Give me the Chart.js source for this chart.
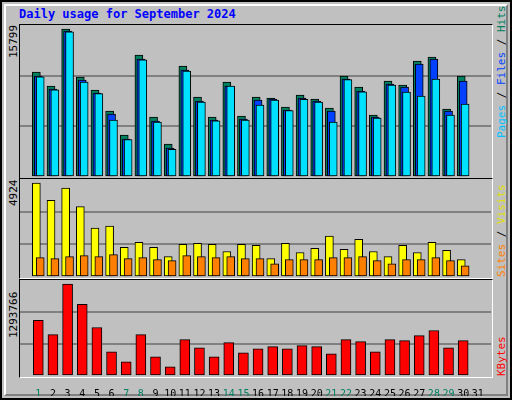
<!DOCTYPE html>
<html><head><meta charset="utf-8">
<script src="https://cdn.jsdelivr.net/npm/chart.js@4"></script>
<style>
body{margin:0;background:#fff}
#frame{position:absolute;left:0;top:0;width:508px;height:396px;background:#c0c0c0;border:2px solid #000;}
#inner{position:absolute;left:2px;top:2px;width:504px;height:392px;border-top:2px solid #fff;border-left:2px solid #fff;border-right:2px solid #808080;border-bottom:2px solid #808080;box-sizing:border-box}
.title{position:absolute;left:19px;top:7px;font:bold 12px "DejaVu Sans Mono",monospace;color:#0000ff}
canvas{position:absolute}
.pan{position:absolute;left:19px;width:472px;border-left:1px solid #000;border-top:1px solid #000;border-right:1px solid #fff;border-bottom:1px solid #fff}
.rot{position:absolute;transform-origin:0 0;transform:rotate(-90deg);white-space:nowrap;font:11px "DejaVu Sans Mono",monospace}
</style></head><body>
<div id="frame"><div id="inner"></div></div>
<div class="title">Daily usage for September 2024</div>
<div class="pan" style="top:24px;height:153px"></div>
<div class="pan" style="top:178px;height:99px"></div>
<div class="pan" style="top:279px;height:97px"></div>
<canvas id="c1" width="471" height="152" style="left:20px;top:25px"></canvas>
<canvas id="c2" width="471" height="98" style="left:20px;top:179px"></canvas>
<canvas id="c3" width="471" height="116" style="left:20px;top:280px"></canvas>
<div class="rot" style="left:7px;top:58px;color:#000">15799</div>
<div class="rot" style="left:7px;top:206px;color:#000">4924</div>
<div class="rot" style="left:7px;top:338px;color:#000">1293766</div>
<div class="rot" style="left:495px;top:138px"><span style="color:#00c0ff">Pages</span> / <span style="color:#0040ff">Files</span> / <span style="color:#00805f">Hits</span></div>
<div class="rot" style="left:495px;top:277px"><span style="color:#ff8000">Sites</span> / <span style="color:#e0e000">Visits</span></div>
<div class="rot" style="left:495px;top:376px"><span style="color:#ff0000">KBytes</span></div>
<script>
var days = [1,2,3,4,5,6,7,8,9,10,11,12,13,14,15,16,17,18,19,20,21,22,23,24,25,26,27,28,29,30,31];
var weekend = [1,7,8,14,15,21,22,28,29];
var hits = [11208,9714,15799,10675,9287,7045,4483,13023,6405,3523,11849,8540,6405,10141,6511,8540,8433,7472,8753,8326,7365,10781,9607,6618,10248,9821,12383,12810,7259,10781];
var files = [10781,9393,15584,10354,8966,6725,4056,12595,5977,3095,11421,8112,6084,9713,6191,8219,8326,7152,8432,8112,7045,10460,9180,6404,9927,9607,12062,12595,7045,10247];
var pages = [10700,9300,15500,10140,8900,6084,4000,12500,5870,2950,11314,8000,6000,9700,6084,7685,8219,7100,8300,8005,5870,10400,9100,6300,9800,9073,8646,10460,6618,7792];
var visits = [4924,4014,4656,3693,2569,2676,1552,1820,1552,1070,1713,1766,1713,1338,1713,1659,963,1766,1284,1499,2141,1445,1980,1338,1070,1659,1284,1820,1392,910];
var sites = [1017,963,1070,1124,1070,1177,963,1017,910,856,1124,1070,1017,1070,963,963,696,910,910,910,1017,1017,1070,856,696,910,910,1017,856,589];
var kbytes = [781935,582897,1293766,1009407,682416,341208,199038,582897,270123,127953,511812,398076,270123,469161,326991,383859,412293,383859,426510,412293,312774,511812,483378,341208,511812,497595,568680,639765,398076,497595];
var tickLabels = days.map(String);

Chart.defaults.animation = false;
Chart.defaults.devicePixelRatio = 1;

function pts(vals, off) {
  return vals.map(function (v, i) { return {x: days[i] + off, y: v}; });
}
function bar(label, vals, off, color, w, order) {
  return {label: label, data: pts(vals, off), backgroundColor: color, borderColor: '#000',
    borderWidth: 1, borderSkipped: false, barThickness: w, grouped: false, order: order};
}
function yScale(max) {
  return {min: 0, max: max, border: {display: false},
    afterBuildTicks: function (s) { s.ticks = [0, max / 3, 2 * max / 3, max].map(function (v) { return {value: v}; }); },
    afterFit: function (s) { s.width = 0; },
    ticks: {display: false},
    grid: {drawTicks: false, lineWidth: 2, color: function (c) { return (c.index == 1 || c.index == 2) ? '#808080' : 'rgba(0,0,0,0)'; }}};
}
function xScale(show) {
  return {type: 'linear', min: 0.27, max: 31.38, display: show,
    border: {display: false}, grid: {display: false},
    afterBuildTicks: function (s) { s.ticks = days.map(function (d) { return {value: d}; }); },
    afterFit: function (s) { s.height = show ? 20 : 0; },
    ticks: {padding: 4, autoSkip: false, maxRotation: 0,
      font: {family: 'DejaVu Sans Mono', size: 10},
      callback: function (v) { return tickLabels[v - 1]; },
      color: function (c) { return weekend.indexOf(c.tick.value) >= 0 ? '#00805f' : '#000'; }}};
}
function opts(max, showX) {
  return {responsive: false, layout: {padding: 0},
    plugins: {legend: {display: false}, tooltip: {enabled: false}},
    scales: {x: xScale(showX), y: yScale(max)}};
}
var o = 2 / 15.14;
new Chart(document.getElementById('c1'), {type: 'bar',
  data: {datasets: [bar('Hits', hits, -o, '#00805f', 8, 3), bar('Files', files, 0, '#0040ff', 8, 2), bar('Pages', pages, o, '#00e0ff', 8, 1)]},
  options: opts(16226, false)});
new Chart(document.getElementById('c2'), {type: 'bar',
  data: {datasets: [bar('Visits', visits, -o, '#ffff00', 8, 2), bar('Sites', sites, o, '#ff8000', 8, 1)]},
  options: opts(5138, false)});
new Chart(document.getElementById('c3'), {type: 'bar',
  data: {datasets: [bar('KBytes', kbytes, 0, '#ff0000', 10, 1)]},
  options: opts(1350634, true)});
</script>
</body></html>
